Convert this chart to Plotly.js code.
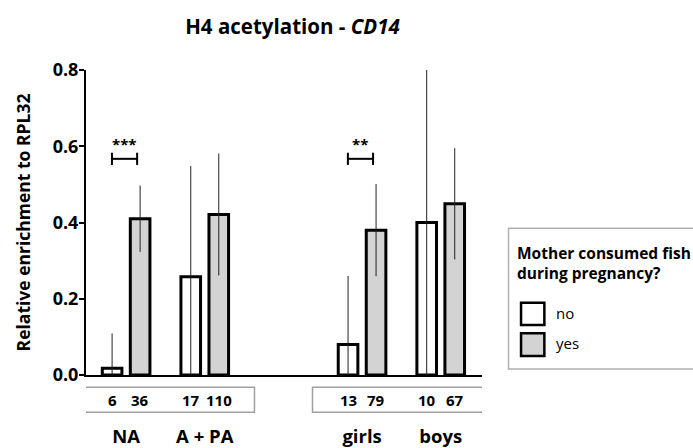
<!DOCTYPE html>
<html>
<head>
<meta charset="utf-8">
<script src="https://cdn.plot.ly/plotly-3.0.1.min.js"></script>
<style>html,body{margin:0;padding:0;background:#fff;}#chart{width:693px;height:448px;}</style>
</head>
<body>
<div id="chart"></div>
<script>
// ---- data ----
const categories = ['NA', 'A + PA', ' ', 'girls', 'boys'];   // ' ' = empty spacer slot
const groups = ['NA', 'A + PA', 'girls', 'boys'];
const noMean = [0.018, 0.258, 0.080, 0.400];
const noSD   = [0.091, 0.290, 0.180, 0.400];
const yesMean = [0.410, 0.421, 0.380, 0.449];
const yesSD   = [0.087, 0.160, 0.121, 0.146];
const nNo  = [6, 17, 13, 10];
const nYes = [36, 110, 79, 67];
const sigGroups = ['NA', 'girls'];
const sigLabels = ['***', '**'];
const sigLevel = 0.567;
const yTicks = [0, 0.2, 0.4, 0.6, 0.8];
const seriesNames = ['no', 'yes'];
const legendTitle = 'Mother consumed fish<br>during pregnancy?';

const FONT = 'Open Sans, Noto Sans, sans-serif';
const GREY = '#d3d3d3';

const traces = [
  {type: 'bar', name: seriesNames[0], x: groups, y: noMean,
   marker: {color: '#ffffff', line: {color: '#000', width: 3}},
   error_y: {type: 'data', array: noSD, visible: true, thickness: 1, width: 0, color: '#222'}},
  {type: 'bar', name: seriesNames[1], x: groups, y: yesMean,
   marker: {color: GREY, line: {color: '#000', width: 3}},
   error_y: {type: 'data', array: yesSD, visible: true, thickness: 1, width: 0, color: '#222'}}
];

const idx = g => categories.indexOf(g);
const OFF = 0.178; // half bar-slot offset in category units

const annotations = [];
const shapes = [];

// n boxes
shapes.push({type: 'rect', xref: 'x', yref: 'paper', x0: -0.627, x1: 1.632, y0: -0.122, y1: -0.040,
  line: {color: '#a0a0a0', width: 1.5}, fillcolor: 'rgba(0,0,0,0)'});
shapes.push({type: 'rect', xref: 'x', yref: 'paper', x0: 2.370, x1: 4.622, y0: -0.122, y1: -0.040,
  line: {color: '#a0a0a0', width: 1.5}, fillcolor: 'rgba(0,0,0,0)'});

groups.forEach((g, i) => {
  const c = idx(g);
  annotations.push({xref: 'x', yref: 'paper', x: c - OFF, y: -0.081, text: '<b>' + nNo[i] + '</b>',
    showarrow: false, font: {family: FONT, size: 15, color: '#000'}, xanchor: 'center', yanchor: 'middle'});
  annotations.push({xref: 'x', yref: 'paper', x: c + OFF, y: -0.081, text: '<b>' + nYes[i] + '</b>',
    showarrow: false, font: {family: FONT, size: 15, color: '#000'}, xanchor: 'center', yanchor: 'middle'});
});

// significance brackets
sigGroups.forEach((g, i) => {
  const c = idx(g);
  const xl = c - 0.18, xr = c + 0.14;
  shapes.push({type: 'line', xref: 'x', yref: 'y', x0: xl, x1: xr, y0: sigLevel, y1: sigLevel, line: {color: '#000', width: 2}});
  shapes.push({type: 'line', xref: 'x', yref: 'y', x0: xl, x1: xl, y0: sigLevel - 0.016, y1: sigLevel + 0.016, line: {color: '#000', width: 2}});
  shapes.push({type: 'line', xref: 'x', yref: 'y', x0: xr, x1: xr, y0: sigLevel - 0.016, y1: sigLevel + 0.016, line: {color: '#000', width: 2}});
  annotations.push({xref: 'x', yref: 'y', x: (xl + xr) / 2, y: sigLevel + 0.04, text: '<b>' + sigLabels[i] + '</b>',
    showarrow: false, font: {family: FONT, size: 15, color: '#000'}, xanchor: 'center', yanchor: 'middle'});
});

// custom legend
shapes.push({type: 'rect', xref: 'paper', yref: 'paper', x0: 1.067, x1: 1.56, y0: 0.0197, y1: 0.481,
  line: {color: '#b0b0b0', width: 1.5}, fillcolor: 'rgba(0,0,0,0)'});
shapes.push({type: 'rect', xref: 'paper', yref: 'paper', x0: 1.0986, x1: 1.1575, y0: 0.164, y1: 0.237,
  line: {color: '#000', width: 2.5}, fillcolor: '#ffffff'});
shapes.push({type: 'rect', xref: 'paper', yref: 'paper', x0: 1.0986, x1: 1.1575, y0: 0.0623, y1: 0.1367,
  line: {color: '#000', width: 2.5}, fillcolor: GREY});
annotations.push({xref: 'paper', yref: 'paper', x: 1.0842, y: 0.3656, text: '<b>' + legendTitle + '</b>',
  showarrow: false, align: 'left', xanchor: 'left', yanchor: 'middle', font: {family: FONT, size: 15.5, color: '#000'}});
annotations.push({xref: 'paper', yref: 'paper', x: 1.1827, y: 0.2033, text: seriesNames[0],
  showarrow: false, xanchor: 'left', yanchor: 'middle', font: {family: FONT, size: 15, color: '#000'}});
annotations.push({xref: 'paper', yref: 'paper', x: 1.1827, y: 0.104, text: seriesNames[1],
  showarrow: false, xanchor: 'left', yanchor: 'middle', font: {family: FONT, size: 15, color: '#000'}});

const layout = {
  width: 693, height: 448,
  margin: {l: 86, r: 211, t: 70, b: 73},
  paper_bgcolor: '#fff', plot_bgcolor: '#fff',
  showlegend: false,
  barmode: 'group', bargap: 0.2875, bargroupgap: 0.3,
  font: {family: FONT, color: '#000'},
  title: {text: '<b>H4 acetylation - <i>CD14</i></b>', x: 0.422, xanchor: 'center', xref: 'container',
    y: 0.94, yanchor: 'middle', yref: 'container', font: {family: FONT, size: 20.5, color: '#000'}},
  xaxis: {type: 'category', categoryorder: 'array', categoryarray: categories,
    range: [-0.51, 4.525], showline: true, linecolor: '#000', linewidth: 2, ticks: '',
    tickvals: groups, ticktext: groups.map(g => '<b>' + g + '</b>'),
    tickfont: {family: FONT, size: 18.5, color: '#000'}, ticklabelstandoff: 44,
    showgrid: false, zeroline: false, fixedrange: true},
  yaxis: {range: [0, 0.8], tickvals: yTicks, ticktext: yTicks.map(v => '<b>' + v.toFixed(1) + '</b>'),
    showline: true, linecolor: '#000', linewidth: 2, ticks: 'outside', ticklen: 5, tickwidth: 2, tickcolor: '#000',
    tickfont: {family: FONT, size: 18, color: '#000'}, ticklabelstandoff: -3, showgrid: false, zeroline: false,
    title: {text: '<b>Relative enrichment to RPL32</b>', font: {family: FONT, size: 17.5, color: '#000'}, standoff: 18}},
  shapes: shapes,
  annotations: annotations
};

Plotly.newPlot('chart', traces, layout, {displayModeBar: false, staticPlot: true});
</script>
</body>
</html>
